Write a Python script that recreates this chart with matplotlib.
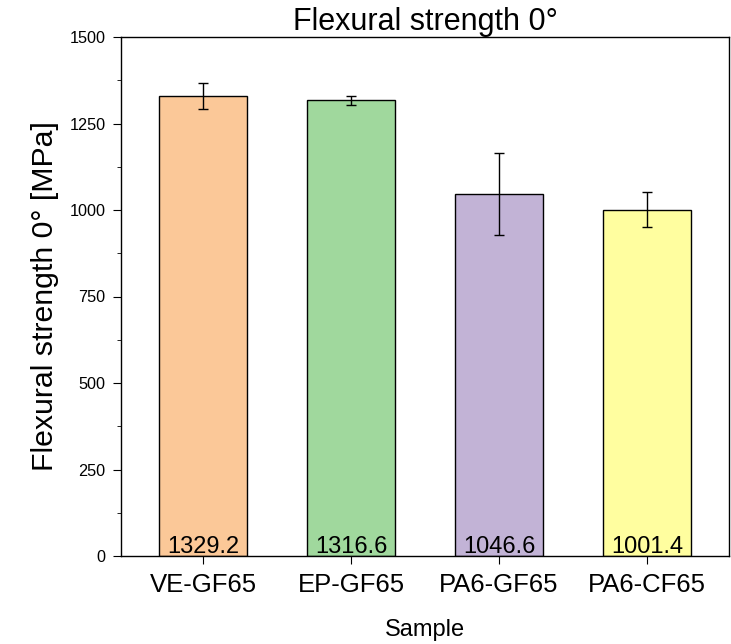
import matplotlib.pyplot as plt
import numpy as np
from matplotlib.ticker import MultipleLocator

plt.rcParams['font.family'] = ['Liberation Sans', 'DejaVu Sans']

samples = ['VE-GF65', 'EP-GF65', 'PA6-GF65', 'PA6-CF65']
strength = [1329.2, 1316.6, 1046.6, 1001.4]
errors = [38, 13, 118, 50]
colors = ['#FBC898', '#A0D89D', '#C2B3D6', '#FFFE9F']

fig = plt.figure(figsize=(7.31, 6.44), dpi=100)
ax = fig.add_axes([121 / 731, 1 - 556 / 644, 608 / 731, 519 / 644])

x = np.arange(len(samples))
ax.bar(x, strength, width=0.6, color=colors, edgecolor='black', linewidth=1,
       yerr=errors, capsize=3.5, error_kw={'elinewidth': 1, 'capthick': 1, 'ecolor': 'black'})

for xi, v in zip(x, strength):
    ax.text(xi, 10, f'{v:.1f}', ha='center', va='baseline', fontsize=17)

ax.set_xlim(-0.555, 3.555)
ax.set_ylim(0, 1500)
ax.set_xticks(x)
ax.set_xticklabels(samples, fontsize=18.5)
ax.yaxis.set_major_locator(MultipleLocator(250))
ax.yaxis.set_minor_locator(MultipleLocator(125))
ax.tick_params(axis='y', which='major', labelsize=11.7, length=6, direction='out', pad=5)
ax.tick_params(axis='y', which='minor', length=3, direction='out')
ax.tick_params(axis='x', which='major', length=6, direction='out', pad=6)
ax.set_xlabel('Sample', fontsize=17, labelpad=16)
ax.set_ylabel('Flexural strength 0° [MPa]', fontsize=21.8)
ax.yaxis.set_label_coords(-0.1026, 0.5)
ax.set_title('Flexural strength 0°', fontsize=22, pad=4)
for s in ax.spines.values():
    s.set_linewidth(1)

fig.savefig('out.png', dpi=100)
